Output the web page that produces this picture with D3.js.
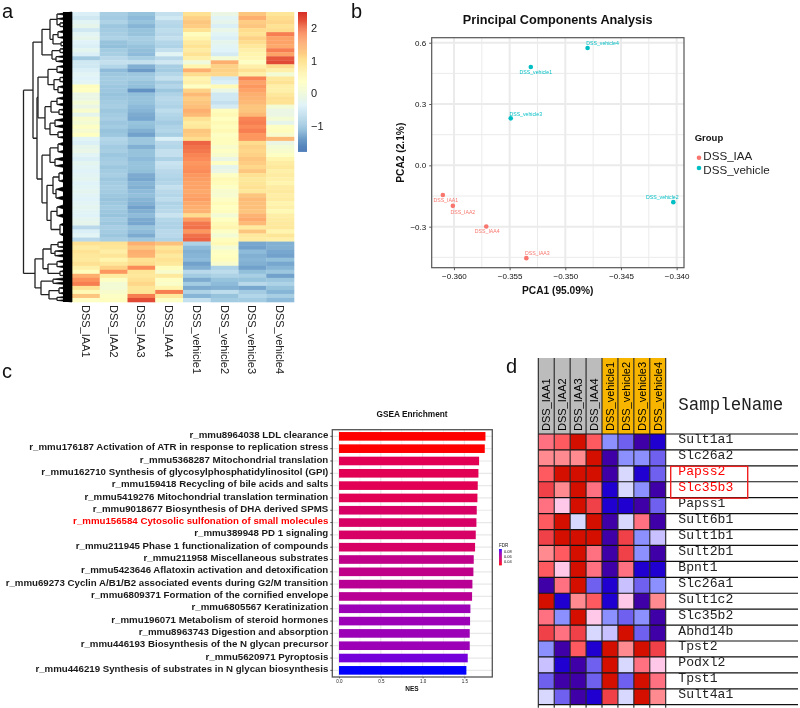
<!DOCTYPE html>
<html>
<head>
<meta charset="utf-8">
<script src="https://cdn.jsdelivr.net/npm/d3@7"></script>
<style>
  body { margin: 0; background: #fff; }
  text { font-family: "Liberation Sans", Arial, sans-serif; }
  svg { filter: blur(.35px); }
</style>
</head>
<body>
<div class="canvas"></div>
<script>
// panel a: expression heatmap
const hmSamples = ['DSS_IAA1','DSS_IAA2','DSS_IAA3','DSS_IAA4','DSS_vehicle1','DSS_vehicle2','DSS_vehicle3','DSS_vehicle4']
const hmRows = [
  [-.4,-.85,-1,-.6,1.05,-.1,1.3,.95],[-.5,-.9,-1.1,-.5,1.2,-.3,1.5,1.1],[-.3,-.8,-1,-.7,1.3,-.2,1.25,1.15],
  [-.2,-.95,-1.15,-.75,1.25,-.4,1.3,1],[-.5,-.9,-1,-.65,1,-.15,1.1,1.1],[-.3,-.85,-1,-.7,.4,-.3,1,1.9],
  [-.2,-.8,-.85,-.6,.6,-.4,1.2,1.6],[-.35,-1,-.9,-.75,.85,-.2,1.1,1.6],[-.4,-1.05,-1,-.8,1,-.3,.9,1.55],
  [-.25,-.9,-1.05,-.6,.8,-.35,.7,1.9],[-.4,-.85,-1.1,-.3,1,-.45,.6,1.6],[-.9,-.7,-.85,-.7,.7,.1,.55,2.2],
  [-.5,-.6,-.6,-.5,0,1.5,.3,2.3],[-.5,-.75,-1.2,-.85,.6,1.2,.7,1.1],[-.4,-1.1,-1.4,-.9,1.5,1.2,1.05,.7],
  [-.3,-.95,-.95,-.75,1.1,1.15,.7,.1],[-.35,-.9,-.9,-.6,.6,-.5,1.85,.9],[-.3,-.9,-1,-.85,.7,-.4,1.6,1],
  [.4,-.95,-1.05,-.75,.3,.5,1.7,.7],[.35,-.95,-1.5,-.95,1.2,-.1,1.6,.7],[-.1,-1,-1.05,-.8,1.4,-.5,1.5,.9],
  [-.1,-.95,-1,-.7,1.25,-.5,1.45,1.05],[.1,-.9,-1,-.75,1.3,-.6,1.4,1],[-.1,-.85,-1.1,-.8,1.35,-.45,1.3,.1],
  [.2,-.95,-1.15,-.65,1.5,.4,1.3,-.1],[-.2,-.9,-1.25,-.75,1.4,.5,1.4,-.1],[.2,-.85,-1.3,-.8,1.05,.35,1.85,.1],
  [.1,-.95,-1,-.9,.8,.5,1.9,-.2],[.3,-.9,-1.05,-.8,.9,.4,1.8,.3],[.15,-1,-1.2,-.75,1.3,.5,1.9,.4],
  [.35,-.95,-1.35,-.85,1.25,.3,1.7,.2],[-.3,-.75,-.95,-.4,1.1,.4,1.7,1.4],[-.4,-.8,-.95,-.7,2.1,.4,1.1,-.1],
  [-.2,-.9,-1.2,-.75,2,.2,1.2,.1],[-.15,-.85,-1,-.6,1.95,.3,1.15,.2],[-.3,-.95,-1,-.6,1.85,.2,1.2,.3],
  [-.4,-.9,-1.1,-.8,1.8,-.1,1.3,.6],[-.25,-.85,-1,-.55,1.7,.3,1.25,.8],[-.3,-.95,-1,-.6,1.75,-.2,1.15,.9],
  [-.35,-.9,-1.05,-.7,1.8,-.1,1.3,.7],[-.3,-.85,-1.25,-.75,1.7,.3,1.05,.8],[-.25,-.95,-1.3,-.8,1.65,.5,.9,.7],
  [-.35,-.9,-1.15,-.75,1.6,.45,.95,.6],[-.3,-.85,-1.2,-.6,1.6,.3,1.05,.8],[-.25,-.9,-1.1,-.7,1.55,.2,.9,.85],
  [-.3,-.95,-1.05,-.75,1.6,.15,1.3,.75],[-.35,-1,-1.15,-.65,1.65,.3,1.4,.8],[-.3,-.95,-1.2,-.8,1.55,.45,1.35,.6],
  [-.25,-.9,-1.35,-.75,1.5,.35,1.35,.7],[-.3,-.95,-1.2,-.7,1.45,.4,1.3,.5],[-.35,-1,-1.1,-.55,1.1,.1,1.45,.75],
  [-.25,-.9,-1.25,-.75,1.65,.35,1.55,.8],[-.2,-.95,-1.3,-.8,1.95,.5,1.4,.85],[-.7,-.85,-1,-.8,2,.6,.85,.9],
  [-.4,-.9,-1.1,-.7,1.7,.3,1.3,.6],[-.3,-.95,-1.25,-.7,2,.1,.85,.95],[-.7,-.85,-.95,-.8,2.1,.4,.8,.7],
  [1.05,1,1.5,1.35,-.8,.5,-1.3,-1.2],[.8,.95,1.3,.95,-1.1,.1,-1.35,-1.2],[1,.75,1.5,1.1,-1.2,.3,-1.1,-1.3],
  [.9,.95,1.45,.85,-1.15,.35,-1.2,-1.35],[.85,.6,1,1,-1.1,.4,-1.15,-1.05],[1.05,.9,1.1,.9,-1.35,.2,-1.2,-1.3],
  [.7,1.2,1.8,.4,-1.2,-.8,-1.35,-1.15],[.4,1.7,.95,.2,-.7,-.65,-1.05,-.95],[1.5,.8,.9,.85,-.9,-.8,-.85,-1.35],
  [1.75,.3,1.05,.3,-1.25,-1,-1,-.95],[1.9,.1,1.15,.25,-.9,-1.1,-.7,-.8],[1,.1,.95,.6,-1.25,-1.2,-1.3,-1],
  [.5,.2,.95,1.9,-.8,-.65,-.9,-1.15],[1.3,.3,1.9,.9,-1.15,-1,-.75,-.85],[.3,.4,2.3,.3,-.6,-.9,-.9,-1.1]
]
const hmColors = ['#4575B4','#91BFDB','#E0F3F8','#FFFFBF','#FEE090','#FC8D59','#D73027']
const hmBarTicks = [2, 1, 0, -1]
// row tree: [merge height, ...children], a plain number is a leaf cluster of that many genes
const hmTree = [48.5,
  [39,
    [30,
      [22, [15,4,5,[12,3,4]], [19,[14,6,5],[11,4,3]]],
      [20, [12,3,4], [16,4,5]]
    ],
    [35,
      [34,
        [24, [15,5,6], [18,[12,4,4],[14,6,5]]],
        [27, [21,[15,6,6],[13,4,5]], [22,[17,6,6],[14,5,5]]]
      ],
      [30,
        [22, [14,8,7], [17,7,6]],
        [25, [19,[13,8,7],[16,9,8]], [21,[15,9,8],[12,9,10]]]
      ]
    ]
  ],
  [37,
    [29, [21,[14,5,4],[17,4,5]], [24,[15,6,4],[12,5,3]]],
    [31, [19,4,4], [23,[13,5,5],[15,3,3]]]
  ]
]

// panel b: PCA
const pcaNames = ['DSS_IAA1','DSS_IAA2','DSS_IAA3','DSS_IAA4','DSS_vehicle1','DSS_vehicle2','DSS_vehicle3','DSS_vehicle4']
const pcaX = [-.3610,-.3601,-.3535,-.3571,-.3531,-.3403,-.3549,-.3480]
const pcaY = [-.145,-.198,-.454,-.299,.481,-.18,.23,.574]
const pcaGroups = ['DSS_IAA','DSS_IAA','DSS_IAA','DSS_IAA','DSS_vehicle','DSS_vehicle','DSS_vehicle','DSS_vehicle']
const pcaXTicks = [-.36,-.355,-.35,-.345,-.34]
const pcaYTicks = [-.3,0,.3,.6]

// panel c: GSEA
const gseaTerms = [
  'r_mmu8964038 LDL clearance',
  'r_mmu176187 Activation of ATR in response to replication stress',
  'r_mmu5368287 Mitochondrial translation',
  'r_mmu162710 Synthesis of glycosylphosphatidylinositol (GPI)',
  'r_mmu159418 Recycling of bile acids and salts',
  'r_mmu5419276 Mitochondrial translation termination',
  'r_mmu9018677 Biosynthesis of DHA derived SPMS',
  'r_mmu156584 Cytosolic sulfonation of small molecules',
  'r_mmu389948 PD 1 signaling',
  'r_mmu211945 Phase 1 functionalization of compounds',
  'r_mmu211958 Miscellaneous substrates',
  'r_mmu5423646 Aflatoxin activation and detoxification',
  'r_mmu69273 Cyclin A/B1/B2 associated events during G2/M transition',
  'r_mmu6809371 Formation of the cornified envelope',
  'r_mmu6805567 Keratinization',
  'r_mmu196071 Metabolism of steroid hormones',
  'r_mmu8963743 Digestion and absorption',
  'r_mmu446193 Biosynthesis of the N glycan precursor',
  'r_mmu5620971 Pyroptosis',
  'r_mmu446219 Synthesis of substrates in N glycan biosynthesis'
]
const gseaNes = [1.752,1.744,1.676,1.668,1.66,1.656,1.648,1.644,1.636,1.628,1.612,1.608,1.596,1.592,1.572,1.568,1.564,1.564,1.54,1.524]
const gseaFdr = [.027,.027,.044,.044,.044,.044,.049,.049,.049,.049,.059,.059,.062,.062,.0716,.0716,.0716,.0716,.081,.0907]
const gseaHighlight = 'r_mmu156584 Cytosolic sulfonation of small molecules'
const nesTicks = [0, .5, 1, 1.5]
const fdrTicks = [.08, .06, .04]

// panel d: sulfation genes
const geneNames = ['Sult1a1','Slc26a2','Papss2','Slc35b3','Papss1','Sult6b1','Sult1b1','Sult2b1','Bpnt1','Slc26a1','Sult1c2','Slc35b2','Abhd14b','Tpst2','Podxl2','Tpst1','Sult4a1']
const geneSamples = ['DSS_IAA1','DSS_IAA2','DSS_IAA3','DSS_IAA4','DSS_vehicle1','DSS_vehicle2','DSS_vehicle3','DSS_vehicle4']
const geneLevels = [
  [2,3,5,3,-2,-3,-4,-5],[1,1,1,5,-4,-2,-2,-3],[3,5,5,5,-4,-.5,-5,-3],[4,1,5,2,-5,-.5,-2,-4],
  [2,.5,5,4,-5,-5,-4,-3],[3,5,-.5,5,-4,-.5,2,-4],[4,5,5,5,-4,4,-2,-1],[1,3,5,2,-4,4,-2,-4],
  [3,.5,5,2,-4,2,-5,-5],[-4,2,5,-3,-5,-1,-3,-2],[5,-5,1,3,-5,.5,-4,1],[2,-2,5,.5,-2,-3,-2,-4],
  [4,2,4,-.5,-1,5,-3,-4],[-2,-4,3,-5,5,1,5,4],[-1,-5,-4,-3,5,-.5,2,.5],[-3,-4,-4,-3,5,-3,5,2],
  [-.5,-3,-4,-5,4,-.5,5,1]
]
const geneRed = ['Papss2','Slc35b3']
const levelKeys = [5,4,3,2,1,.5,-.5,-1,-2,-3,-4,-5]
const levelColors = ['#d40f00','#f04048','#ff5a60','#ff7080','#ff8a90','#ffc8e8','#d8d8ff','#c8c0ff','#8c90ff','#7060f0','#4000a8','#2000d0']

const width = 800, height = 708
const svg = d3.select('.canvas').append('svg')
  .attr('width', width)
  .attr('height', height)
  .style('display', 'block')

const panelLabels = [['a', 2, 18], ['b', 351, 18], ['c', 2, 378], ['d', 506, 372.5]]
svg.selectAll('.panelLabel').data(panelLabels).join('text')
  .attr('class', 'panelLabel')
  .attr('x', d => d[1]).attr('y', d => d[2])
  .attr('font-size', 20)
  .attr('fill', '#111')
  .text(d => d[0])

drawHeatmap()
drawPca()
drawGsea()
drawGenes()

function drawHeatmap() {
  const left = 72, right = 294, top = 12, bottom = 302
  const g = svg.append('g')
  const x = d3.scaleBand().domain(hmSamples).range([left, right])
  const y = d3.scaleBand().domain(d3.range(hmRows.length)).range([top, bottom])
  const color = d3.scaleLinear()
    .domain(d3.range(7).map(i => -1.77 + i * (2.5 + 1.77) / 6))
    .range(hmColors)

  g.selectAll('.row').data(hmRows).join('g')
    .attr('transform', (d, i) => `translate(0,${y(i)})`)
    .selectAll('rect').data(d => d).join('rect')
    .attr('x', (d, i) => x(hmSamples[i]))
    .attr('width', x.bandwidth() + .3)
    .attr('height', y.bandwidth() + .3)
    .attr('fill', d => color(d))

  g.selectAll('.colLabel').data(hmSamples).join('text')
    .attr('transform', d => `translate(${x(d) + x.bandwidth() / 2 - 4},305) rotate(90)`)
    .attr('font-size', 11)
    .attr('fill', '#222')
    .text(d => d)

  // colour bar
  const barY = d3.scaleLinear().domain([2.5, -1.77]).range([12, 151])
  g.selectAll('.barStep').data(d3.range(2.5, -1.77, -.03)).join('rect')
    .attr('x', 298).attr('width', 9)
    .attr('y', d => barY(d)).attr('height', 1.2)
    .attr('fill', d => color(d))
  g.selectAll('.barTick').data(hmBarTicks).join('text')
    .attr('x', 311)
    .attr('y', d => barY(d) + 4)
    .attr('font-size', 11)
    .attr('fill', '#222')
    .text(d => d3.format('d')(d))

  // row dendrogram
  const dx = d3.scaleLinear().domain([0, 48.5]).range([left, 23.5])
  const root = d3.hierarchy(hmTree, d => Array.isArray(d) ? d.slice(1) : null)
  const total = d3.sum(root.leaves(), d => d.data)
  const dy = d3.scaleLinear().domain([0, total]).range([top, bottom])
  let acc = 0
  root.eachAfter(n => {
    if (n.children) {
      n.h = n.data[0]
      n.pos = (n.children[0].pos + n.children[n.children.length - 1].pos) / 2
    } else {
      n.h = 0
      n.pos = acc + n.data / 2
      n.from = acc
      acc += n.data
    }
  })
  const inner = root.descendants().filter(n => n.children)
  const leaves = root.leaves()
  const tree = svg.append('g')
  tree.selectAll('.wedge').data(leaves).join('path')
    .attr('d', n => `M${dx(n.parent.h)},${dy(n.pos)}L${left},${dy(n.from)}L${left},${dy(n.from + n.data)}Z`)
    .attr('fill', '#000')
    .attr('stroke', '#000')
    .attr('stroke-width', .7)
  tree.append('rect')
    .attr('x', dx(9)).attr('y', top)
    .attr('width', left - dx(9)).attr('height', bottom - top)
    .attr('fill', '#000')
  tree.selectAll('.link').data(inner).join('path')
    .attr('fill', 'none')
    .attr('stroke', '#222')
    .attr('stroke-width', 1.3)
    .attr('d', n => {
      const first = n.children[0], last = n.children[n.children.length - 1]
      let p = `M${dx(n.h)},${dy(first.pos)}V${dy(last.pos)}`
      n.children.forEach(c => { if (c.children) p += `M${dx(n.h)},${dy(c.pos)}H${dx(c.h)}` })
      return p
    })
}

function drawPca() {
  const left = 431.7, right = 684, top = 37.7, bottom = 267.7
  const g = svg.append('g')
  const x = d3.scaleLinear().domain([-.362, -.33934]).range([left, right])
  const y = d3.scaleLinear().domain([.6245, -.5007]).range([top, bottom])
  const color = d3.scaleOrdinal(['DSS_IAA', 'DSS_vehicle'], ['#f8766d', '#00bfc4'])

  const xMinor = d3.pairs(pcaXTicks).map(p => d3.mean(p))
  const yMinor = d3.pairs(pcaYTicks).map(p => d3.mean(p)).concat([-.45])
  const vGrid = (vals, w) => g.selectAll(null).data(vals).join('line')
    .attr('x1', d => x(d)).attr('x2', d => x(d)).attr('y1', top).attr('y2', bottom)
    .attr('stroke', '#ebebeb').attr('stroke-width', w)
  const hGrid = (vals, w) => g.selectAll(null).data(vals).join('line')
    .attr('y1', d => y(d)).attr('y2', d => y(d)).attr('x1', left).attr('x2', right)
    .attr('stroke', '#ebebeb').attr('stroke-width', w)
  vGrid(xMinor, 1); hGrid(yMinor, 1)
  vGrid(pcaXTicks, 2); hGrid(pcaYTicks, 2)

  const xAxis = g.append('g').attr('transform', `translate(0,${bottom})`)
    .call(d3.axisBottom(x).tickValues(pcaXTicks).tickFormat(d3.format('.3f')).tickSize(2.5))
  const yAxis = g.append('g').attr('transform', `translate(${left},0)`)
    .call(d3.axisLeft(y).tickValues(pcaYTicks).tickFormat(d3.format('.1f')).tickSize(2.5))
  ;[xAxis, yAxis].forEach(a => {
    a.select('.domain').remove()
    a.selectAll('text').attr('font-size', 8).attr('fill', '#111').style('font-family', 'Liberation Sans')
    a.selectAll('line').attr('stroke', '#333').attr('stroke-width', .8)
  })

  g.append('rect')
    .attr('x', left).attr('y', top)
    .attr('width', right - left).attr('height', bottom - top)
    .attr('fill', 'none').attr('stroke', '#555').attr('stroke-width', 1.2)

  // label offsets from the point
  const nudge = {
    DSS_IAA1: [3, 5], DSS_IAA2: [10, 6], DSS_IAA3: [11, -4.5], DSS_IAA4: [1, 5],
    DSS_vehicle1: [5, 5], DSS_vehicle2: [-11, -4.5], DSS_vehicle3: [15, -4.5], DSS_vehicle4: [15, -4.5]
  }
  g.selectAll('.pt').data(pcaNames).join('circle')
    .attr('cx', (d, i) => x(pcaX[i]))
    .attr('cy', (d, i) => y(pcaY[i]))
    .attr('r', 2.3)
    .attr('fill', (d, i) => color(pcaGroups[i]))
  g.selectAll('.ptLabel').data(pcaNames).join('text')
    .attr('x', (d, i) => x(pcaX[i]) + nudge[d][0])
    .attr('y', (d, i) => y(pcaY[i]) + nudge[d][1] + 1.7)
    .attr('text-anchor', 'middle')
    .attr('font-size', 5.2)
    .attr('fill', (d, i) => color(pcaGroups[i]))
    .text(d => d)

  const bold = (txt, px, py, size) => g.append('text')
    .attr('x', px).attr('y', py)
    .attr('text-anchor', 'middle')
    .attr('font-weight', 'bold')
    .attr('font-size', size)
    .attr('fill', '#111')
    .text(txt)
  bold('Principal Components Analysis', 557.7, 23.5, 12.7)
  bold('PCA1 (95.09%)', 557.7, 294, 10.2)
  bold('PCA2 (2.1%)', 0, 0, 10.2).attr('transform', 'translate(404,152.7) rotate(-90)')

  g.append('text').attr('x', 694.7).attr('y', 141)
    .attr('font-weight', 'bold').attr('font-size', 9.5).attr('fill', '#111')
    .text('Group')
  const legendY = d3.scalePoint().domain(color.domain()).range([157.7, 168])
  const legendTextY = d3.scalePoint().domain(color.domain()).range([160.2, 173.6])
  g.selectAll('.legDot').data(color.domain()).join('circle')
    .attr('cx', 699).attr('cy', d => legendY(d)).attr('r', 2.3).attr('fill', d => color(d))
  g.selectAll('.legText').data(color.domain()).join('text')
    .attr('x', 703.3).attr('y', d => legendTextY(d))
    .attr('font-size', 11.6).attr('fill', '#222')
    .text(d => d)
}

function drawGsea() {
  const left = 332.3, right = 492.3, top = 429.7, bottom = 677
  const g = svg.append('g')
  const x = d3.scaleLinear().domain([-.08, 1.834]).range([left, right])
  const y = d3.scaleBand().domain(gseaTerms).range([top, bottom]).paddingInner(.3).paddingOuter(.19)
  const fdrColor = d3.scaleLinear().domain([.027, .0907]).range(['red', 'blue']).interpolate(d3.interpolateLab)

  const nesMinor = d3.pairs(nesTicks).map(p => d3.mean(p))
  g.selectAll('.vMinor').data(nesMinor).join('line')
    .attr('x1', d => x(d)).attr('x2', d => x(d)).attr('y1', top).attr('y2', bottom)
    .attr('stroke', '#ededed').attr('stroke-width', .7)
  g.selectAll('.vMajor').data(nesTicks).join('line')
    .attr('x1', d => x(d)).attr('x2', d => x(d)).attr('y1', top).attr('y2', bottom)
    .attr('stroke', '#e8e8e8').attr('stroke-width', 1.2)
  g.selectAll('.hGrid').data(gseaTerms).join('line')
    .attr('y1', d => y(d) + y.bandwidth() / 2).attr('y2', d => y(d) + y.bandwidth() / 2)
    .attr('x1', left).attr('x2', right)
    .attr('stroke', '#e8e8e8').attr('stroke-width', 1.2)

  g.selectAll('.bar').data(gseaTerms).join('rect')
    .attr('x', x(0))
    .attr('y', d => y(d))
    .attr('width', (d, i) => x(gseaNes[i]) - x(0))
    .attr('height', y.bandwidth())
    .attr('fill', (d, i) => fdrColor(gseaFdr[i]))

  g.append('rect')
    .attr('x', left).attr('y', top)
    .attr('width', right - left).attr('height', bottom - top)
    .attr('fill', 'none').attr('stroke', '#555').attr('stroke-width', 1.3)

  const yAxis = g.append('g').attr('transform', `translate(${left},0)`)
    .call(d3.axisLeft(y).tickSize(2).tickPadding(2))
  yAxis.select('.domain').remove()
  yAxis.selectAll('line').attr('stroke', '#333').attr('stroke-width', .8)
  yAxis.selectAll('text')
    .attr('font-size', 9.7)
    .attr('font-weight', 'bold')
    .attr('dy', '.32em')
    .attr('transform', 'translate(0,-1.5)')
    .attr('fill', d => d === gseaHighlight ? '#ff0000' : '#1a1a1a')
    .style('font-family', 'Liberation Sans')

  const xAxis = g.append('g').attr('transform', `translate(0,${bottom})`)
    .call(d3.axisBottom(x).tickValues(nesTicks).tickFormat(d3.format('.1f')).tickSize(1.5).tickPadding(1.5))
  xAxis.select('.domain').remove()
  xAxis.selectAll('line').attr('stroke', '#333').attr('stroke-width', .6)
  xAxis.selectAll('text').attr('font-size', 4.5).attr('fill', '#222').style('font-family', 'Liberation Sans')

  g.append('text').attr('x', 412).attr('y', 417)
    .attr('text-anchor', 'middle').attr('font-weight', 'bold').attr('font-size', 8.3).attr('fill', '#111')
    .text('GSEA Enrichment')
  g.append('text').attr('x', 412).attr('y', 690.5)
    .attr('text-anchor', 'middle').attr('font-weight', 'bold').attr('font-size', 6.5).attr('fill', '#111')
    .text('NES')

  // FDR legend
  g.append('text').attr('x', 499).attr('y', 546.5)
    .attr('font-size', 4.5).attr('fill', '#111').text('FDR')
  const legY = d3.scaleLinear().domain([.0907, .027]).range([549, 565])
  g.selectAll('.legStep').data(d3.range(.0907, .027, -.002)).join('rect')
    .attr('x', 499).attr('width', 2.8)
    .attr('y', d => legY(d)).attr('height', .8)
    .attr('fill', d => fdrColor(d))
  g.selectAll('.legTick').data(fdrTicks).join('text')
    .attr('x', 504).attr('y', d => legY(d) + 1.5)
    .attr('font-size', 4).attr('fill', '#111')
    .text(d => d3.format('.2f')(d))
}

function drawGenes() {
  const left = 538.3, right = 665.7, headTop = 358, top = 434, bottom = 704.7, lineEnd = 798
  const g = svg.append('g')
  const x = d3.scaleBand().domain(geneSamples).range([left, right])
  const y = d3.scaleBand().domain(geneNames).range([top, bottom])
  const color = d3.scaleOrdinal(levelKeys, levelColors)

  g.selectAll('.head').data(geneSamples).join('rect')
    .attr('x', d => x(d)).attr('y', headTop)
    .attr('width', x.bandwidth()).attr('height', top - headTop)
    .attr('fill', d => d.includes('IAA') ? '#bcbcbc' : '#f7b500')
  g.selectAll('.headText').data(geneSamples).join('text')
    .attr('transform', d => `translate(${x(d) + x.bandwidth() / 2 + 4},431) rotate(-90)`)
    .attr('font-size', 11)
    .attr('fill', '#000')
    .text(d => d)

  geneLevels.forEach((row, r) => {
    g.selectAll(null).data(row).join('rect')
      .attr('x', (d, i) => x(geneSamples[i]))
      .attr('y', y(geneNames[r]))
      .attr('width', x.bandwidth())
      .attr('height', y.bandwidth())
      .attr('fill', d => color(d))
  })

  const rowLines = geneNames.map(d => y(d)).concat([bottom])
  g.selectAll('.rowLine').data(rowLines).join('line')
    .attr('x1', left).attr('x2', lineEnd).attr('y1', d => d).attr('y2', d => d)
    .attr('stroke', '#111').attr('stroke-width', 1.2)
  g.selectAll('.colLine').data(geneSamples.map(d => x(d)).concat([right])).join('line')
    .attr('x1', d => d).attr('x2', d => d).attr('y1', headTop).attr('y2', bottom + 3)
    .attr('stroke', '#222').attr('stroke-width', 1.1)

  g.append('text').attr('x', 678.3).attr('y', 410)
    .attr('font-size', 17.5).attr('fill', '#222')
    .style('font-family', 'Liberation Mono')
    .text('SampleName')
  g.selectAll('.gene').data(geneNames).join('text')
    .attr('x', 678.3).attr('y', d => y(d) + y.bandwidth() / 2 + 1.5)
    .attr('font-size', 13.1)
    .attr('fill', d => geneRed.includes(d) ? '#ff0000' : '#222')
    .style('font-family', 'Liberation Mono')
    .text(d => d)

  const a = y(geneRed[0]), b = y(geneRed[1]) + y.bandwidth()
  g.append('rect')
    .attr('x', 670.7).attr('y', a + .5)
    .attr('width', 77).attr('height', b - a)
    .attr('fill', 'none').attr('stroke', '#f02020').attr('stroke-width', 1.4)
}
</script>
</body>
</html>
